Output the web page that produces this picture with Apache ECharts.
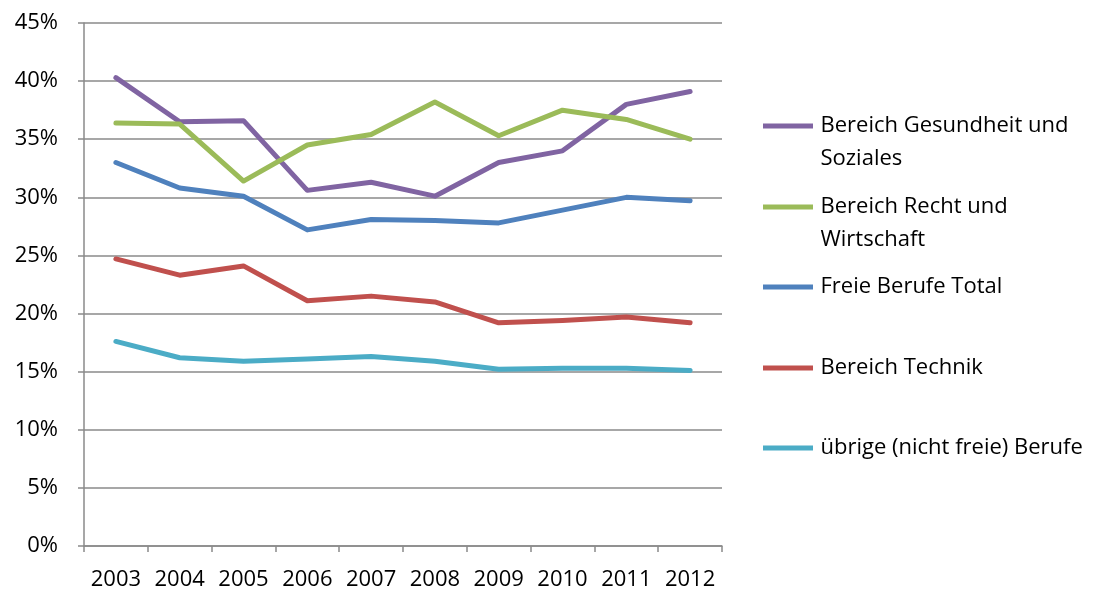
<!DOCTYPE html>
<html>
<head>
<meta charset="utf-8">
<script src="https://cdn.jsdelivr.net/npm/echarts@6/dist/echarts.min.js"></script>
<style>
  html, body { margin: 0; padding: 0; background: #fff; }
  #chart { width: 1106px; height: 591px; }
</style>
</head>
<body>
<div id="chart"></div>
<script>
// Years on the category axis
const years = ['2003', '2004', '2005', '2006', '2007', '2008', '2009', '2010', '2011', '2012'];

// Shares per occupational group (percent)
const gesundheitSoziales = [40.3, 36.5, 36.6, 30.6, 31.3, 30.1, 33.0, 34.0, 38.0, 39.1];
const rechtWirtschaft    = [36.4, 36.3, 31.4, 34.5, 35.4, 38.2, 35.3, 37.5, 36.7, 35.0];
const freieBerufeTotal   = [33.0, 30.8, 30.1, 27.2, 28.1, 28.0, 27.8, 28.9, 30.0, 29.7];
const technik            = [24.7, 23.3, 24.1, 21.1, 21.5, 21.0, 19.2, 19.4, 19.7, 19.2];
const uebrigeBerufe      = [17.6, 16.2, 15.9, 16.1, 16.3, 15.9, 15.2, 15.3, 15.3, 15.1];

// Y-axis tick range
const yMin = 0, yMax = 45, yStep = 5;

const FONT = '"Open Sans", sans-serif';
const GRID_COLOR = '#8a8a8a';

const seriesDefs = [
  { name: 'Bereich Gesundheit und Soziales', label: '\nBereich Gesundheit und\nSoziales', data: gesundheitSoziales, color: '#8064A2', legendY: 126 },
  { name: 'Bereich Recht und Wirtschaft', label: '\nBereich Recht und\nWirtschaft', data: rechtWirtschaft, color: '#9BBB59', legendY: 207 },
  { name: 'Freie Berufe Total', label: 'Freie Berufe Total', data: freieBerufeTotal, color: '#4F81BD', legendY: 287 },
  { name: 'Bereich Technik', label: 'Bereich Technik', data: technik, color: '#C0504D', legendY: 368 },
  { name: 'übrige (nicht freie) Berufe', label: 'übrige (nicht freie) Berufe', data: uebrigeBerufe, color: '#4BACC6', legendY: 448 }
];

const LINE_H = 33;

const chart = echarts.init(document.getElementById('chart'), null, { renderer: 'canvas' });

chart.setOption({
  animation: false,
  backgroundColor: '#ffffff',
  textStyle: { fontFamily: FONT },
  grid: { left: 84, right: 384, top: 23, bottom: 45, containLabel: false },
  xAxis: {
    type: 'category',
    data: years,
    boundaryGap: true,
    axisLine: { lineStyle: { color: GRID_COLOR, width: 1.5 } },
    axisTick: { show: true, interval: 0, length: 6, lineStyle: { color: GRID_COLOR, width: 1.5 } },
    axisLabel: { color: '#000', fontSize: 22, fontFamily: FONT, margin: 23, interval: 0, hideOverlap: false },
    splitLine: { show: false }
  },
  yAxis: {
    type: 'value',
    min: yMin, max: yMax, interval: yStep,
    axisLine: { show: true, lineStyle: { color: GRID_COLOR, width: 1.5 } },
    axisTick: { show: true, length: 6, lineStyle: { color: GRID_COLOR, width: 1.5 } },
    axisLabel: { color: '#000', fontSize: 22, fontFamily: FONT, margin: 26, formatter: v => v + '%' },
    splitLine: { show: true, lineStyle: { color: GRID_COLOR, width: 1.5 } }
  },
  legend: seriesDefs.map(s => ({
    data: [s.name],
    left: 763,
    top: s.legendY - (s.label.split('\n').length * LINE_H) / 2,
    padding: 0,
    orient: 'vertical',
    icon: 'path://M0,0 L10,0 L10,1 L0,1 Z',
    itemWidth: 55,
    itemHeight: 5,
    itemGap: 5,
    formatter: () => s.label,
    textStyle: { color: '#000', fontSize: 22, fontFamily: FONT, lineHeight: LINE_H },
    selectedMode: false
  })),
  series: seriesDefs.map(s => ({
    name: s.name,
    type: 'line',
    data: s.data,
    symbol: 'none',
    color: s.color,
    lineStyle: { width: 5, color: s.color, cap: 'round', join: 'round' },
    itemStyle: { color: s.color }
  }))
});
</script>
</body>
</html>
